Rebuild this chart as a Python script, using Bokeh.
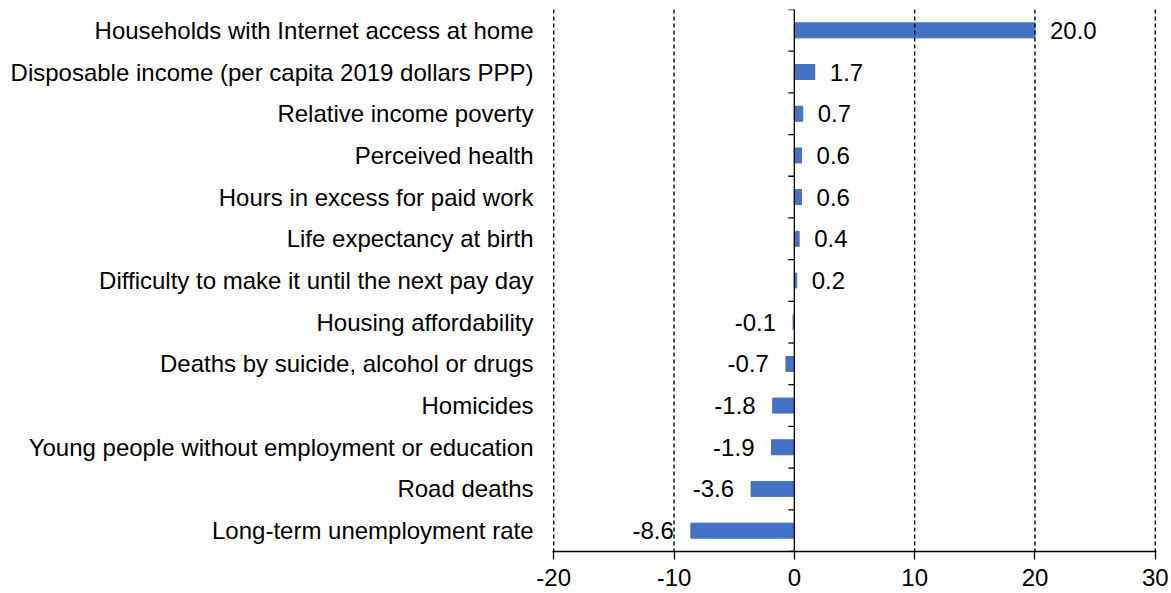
from bokeh.plotting import figure
from bokeh.models import ColumnDataSource, Range1d, FixedTicker, Span
from bokeh.core.properties import value
from bokeh.embed import file_html
from bokeh.resources import INLINE

categories = [
    "Households with Internet access at home",
    "Disposable income (per capita 2019 dollars PPP)",
    "Relative income poverty",
    "Perceived health",
    "Hours in excess for paid work",
    "Life expectancy at birth",
    "Difficulty to make it until the next pay day",
    "Housing affordability",
    "Deaths by suicide, alcohol or drugs",
    "Homicides",
    "Young people without employment or education",
    "Road deaths",
    "Long-term unemployment rate",
]
values = [20.0, 1.7, 0.7, 0.6, 0.6, 0.4, 0.2, -0.1, -0.7, -1.8, -1.9, -3.6, -8.6]
x_ticks = [-20, -10, 0, 10, 20, 30]

FONT = "Liberation Sans"
FS = "24px"
n = len(categories)
ypos = [n - 0.5 - i for i in range(n)]

p = figure(width=1171, height=593, output_backend="svg", toolbar_location=None,
           x_range=Range1d(-20.1, 30.1), y_range=Range1d(0, n))
p.min_border_left = 552
p.min_border_right = 15
p.min_border_top = 9
p.min_border_bottom = 42
p.outline_line_color = None
p.background_fill_color = "white"
p.border_fill_color = "white"

# dashed vertical gridlines (drawn as spans so the edge lines show too)
for t in x_ticks:
    if t != 0:
        p.add_layout(Span(location=t, dimension="height", line_color="black",
                          line_width=1.4, line_dash="4 3"))

src = ColumnDataSource(dict(y=ypos, v=values))
p.hbar(y="y", left=0, right="v", height=0.36, color="#4472C4", source=src)

# value labels
pos_idx = [i for i, v in enumerate(values) if v >= 0]
neg_idx = [i for i, v in enumerate(values) if v < 0]
for idx, align, off in ((pos_idx, "left", 15), (neg_idx, "right", -17)):
    s = ColumnDataSource(dict(x=[values[i] for i in idx], y=[ypos[i] for i in idx],
                              t=["%.1f" % values[i] for i in idx]))
    p.text(x="x", y="y", text="t", source=s, x_offset=off, text_align=align,
           text_baseline="middle", text_font=value(FONT), text_font_size=FS,
           text_color="black")

# vertical zero axis with category boundary ticks
p.add_layout(Span(location=0, dimension="height", line_color="black", line_width=1.3))
bounds = list(range(n + 1))
p.segment(x0=[0] * len(bounds), x1=[-0.5] * len(bounds), y0=bounds, y1=bounds,
          line_color="black", line_width=1.3)

p.xgrid.visible = False
p.ygrid.visible = False

# x axis
xa = p.xaxis[0]
xa.ticker = FixedTicker(ticks=x_ticks)
xa.major_label_overrides = {t: str(t) for t in x_ticks}
xa.axis_line_color = "black"
xa.axis_line_width = 1.3
xa.major_tick_line_color = "black"
xa.major_tick_line_width = 1.3
xa.major_tick_out = 8
xa.major_tick_in = 0
xa.minor_tick_line_color = None
xa.major_label_text_font = FONT
xa.major_label_text_font_size = FS
xa.major_label_text_color = "black"
xa.major_label_standoff = 9

# y axis (category labels)
ya = p.yaxis[0]
ya.ticker = FixedTicker(ticks=ypos)
ya.major_label_overrides = {y: c for y, c in zip(ypos, categories)}
ya.axis_line_color = None
ya.major_tick_line_color = None
ya.minor_tick_line_color = None
ya.major_label_standoff = 13
ya.major_label_text_font = FONT
ya.major_label_text_font_size = FS
ya.major_label_text_color = "black"

open("out.html", "w").write(file_html(p, INLINE))
